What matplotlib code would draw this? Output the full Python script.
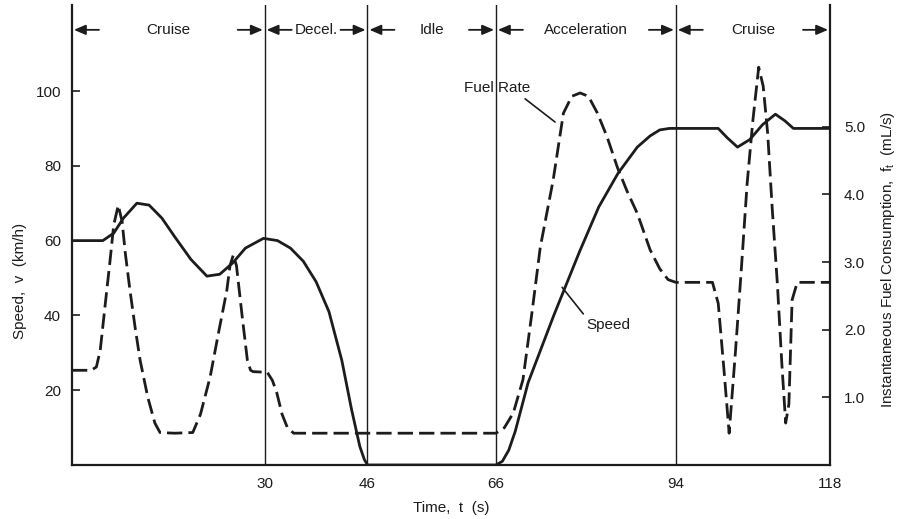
import matplotlib.pyplot as plt

plt.rcParams['font.family'] = ['Liberation Sans', 'DejaVu Sans']

# speed trace, km/h
speed_t = [0, 4.8, 6.5, 8.0, 10.1, 12.0, 14.0, 16.0, 18.5, 21.0, 23.0, 25.0, 27.0, 29.8,
           32.0, 34.0, 36.0, 38.0, 40.0, 42.0, 43.5, 44.8, 45.5, 46.0,
           66.0, 67.0, 68.0, 69.0, 71.0, 75.0, 79.0, 82.0, 85.0, 88.0, 90.0, 91.5, 93.0,
           100.6, 102.0, 103.6, 105.5, 107.5, 109.5, 111.0, 112.3, 118]
speed_v = [60, 60, 62, 66, 70, 69.5, 66, 61, 55, 50.5, 51, 54, 58, 60.6,
           60, 58, 54.5, 49, 41, 28, 15, 5, 1.5, 0,
           0, 1, 4, 9, 22, 40, 57, 69, 78, 85, 88, 89.6, 90,
           90, 87.5, 85, 87, 91, 93.8, 92, 90, 90]

# fuel rate trace, mL/s
fuel_t = [0, 3.0, 3.8, 4.4, 5.2, 5.9, 6.5, 7.2, 7.8, 8.3, 9.0, 9.8, 10.6, 11.8, 12.9, 13.7,
          16.0, 18.8, 20.0, 21.5, 22.8, 24.1, 24.6, 25.1, 25.6, 26.5, 27.3, 27.8, 28.2,
          30.4, 31.2, 31.9, 32.7, 33.5, 34.5,
          66.0, 67.3, 68.7, 70.2, 71.6, 72.9, 74.9, 76.5, 77.8, 79.1, 80.4, 81.8, 83.3,
          84.9, 86.4, 88.0, 90.0, 91.5, 92.8, 94.0,
          99.7, 100.6, 101.5, 102.3, 103.3, 104.2, 105.1, 106.0, 106.9, 107.6, 108.3,
          109.0, 109.8, 110.5, 111.1, 111.6, 112.1, 112.9, 118]
fuel_v = [1.40, 1.40, 1.45, 1.70, 2.4, 3.0, 3.55, 3.84, 3.6, 3.13, 2.6, 2.05, 1.55, 1.0, 0.62, 0.48,
          0.47, 0.48, 0.75, 1.30, 1.95, 2.58, 2.95, 3.1, 2.95, 2.19, 1.55, 1.40, 1.38,
          1.37, 1.25, 1.06, 0.75, 0.56, 0.47,
          0.47, 0.55, 0.77, 1.26, 2.25, 3.22, 4.21, 5.2, 5.45, 5.5, 5.45, 5.2, 4.85,
          4.4, 4.05, 3.72, 3.18, 2.9, 2.74, 2.70,
          2.70, 2.39, 1.4, 0.47, 1.70, 2.9, 4.16, 5.1, 5.88, 5.6, 4.9,
          3.8, 2.69, 1.5, 0.62, 0.9, 2.44, 2.70, 2.70]

phase_edges = [0, 30, 46, 66, 94, 118]
phase_names = ['Cruise', 'Decel.', 'Idle', 'Acceleration', 'Cruise']
speed_ticks = [20, 40, 60, 80, 100]
fuel_ticks = [1.0, 2.0, 3.0, 4.0, 5.0]

ink = '#1c1c1c'
fs = 11

fig = plt.figure(figsize=(9.03, 5.19), dpi=100)
ax = fig.add_axes([72 / 903, 1 - 465 / 519, 758 / 903, 460 / 519])
ax2 = ax.twinx()

ax.plot(speed_t, speed_v, color=ink, lw=2.0, solid_joinstyle='round', zorder=3)
ax2.plot(fuel_t, fuel_v, color=ink, lw=2.0, dashes=(5.5, 2.2), zorder=3)

ax.set_xlim(0, 118)
ax.set_ylim(0, 123)
ax2.set_ylim(0, 6.8)

# phase boundaries
for e in phase_edges[1:-1]:
    ax.axvline(e, color=ink, lw=1.0, zorder=2)

ax.spines['top'].set_visible(False)
ax.spines['right'].set_visible(False)
for s in ['top', 'left', 'bottom']:
    ax2.spines[s].set_visible(False)
for sp in [ax.spines['left'], ax.spines['bottom'], ax2.spines['right']]:
    sp.set_linewidth(1.6)
    sp.set_color(ink)

ax.set_xticks(phase_edges[1:])
ax.set_xticklabels([str(e) for e in phase_edges[1:]])
ax.tick_params(axis='x', length=0, pad=9, labelsize=fs, colors=ink)
ax.set_yticks(speed_ticks)
ax.tick_params(axis='y', direction='in', length=6, width=1.2, pad=8, labelsize=fs, colors=ink)
ax2.set_yticks(fuel_ticks)
ax2.set_yticklabels(['%.1f' % v for v in fuel_ticks])
ax2.tick_params(axis='y', direction='in', length=6, width=1.2, pad=10, labelsize=fs, colors=ink)

ax.set_xlabel('Time,  t  (s)', fontsize=fs, color=ink)
ax.xaxis.set_label_coords(0.5, -0.078)
ax.set_ylabel('Speed,  v  (km/h)', fontsize=fs, color=ink)
ax.yaxis.set_label_coords(-0.06, 0.40)
ax2.set_ylabel('Instantaneous Fuel Consumption,  f$_\\mathregular{t}$  (mL/s)', fontsize=fs, color=ink)
ax2.yaxis.set_label_coords(1.064, 0.446)

# phase labels with arrows
tr = ax.get_xaxis_transform()
ya = 0.946
for lo, hi, name in zip(phase_edges[:-1], phase_edges[1:], phase_names):
    ax.text((lo + hi) / 2, ya, name, transform=tr, ha='center', va='center',
            fontsize=fs, color=ink)
    ap = dict(arrowstyle='-|>,head_length=0.7,head_width=0.3', color=ink, lw=1.3,
              shrinkA=0, shrinkB=0)
    ax.annotate('', xy=(lo + 0.3, ya), xytext=(lo + 4.2, ya), xycoords=tr,
                textcoords=tr, arrowprops=ap)
    ax.annotate('', xy=(hi - 0.3, ya), xytext=(hi - 4.2, ya), xycoords=tr,
                textcoords=tr, arrowprops=ap)

# curve labels
ax2.annotate('Fuel Rate', xy=(75.2, 5.07), xytext=(66.2, 5.57), ha='center', va='center',
             fontsize=fs, color=ink,
             arrowprops=dict(arrowstyle='-', color=ink, lw=1.2, relpos=(0.85, 0.0),
                             shrinkA=1, shrinkB=0))
ax.annotate('Speed', xy=(76.3, 47.5), xytext=(83.5, 37.5), ha='center', va='center',
            fontsize=fs, color=ink,
            arrowprops=dict(arrowstyle='-', color=ink, lw=1.2, relpos=(0.0, 1.0),
                            shrinkA=1, shrinkB=0))

fig.savefig('out.png', dpi=100, facecolor='white')
